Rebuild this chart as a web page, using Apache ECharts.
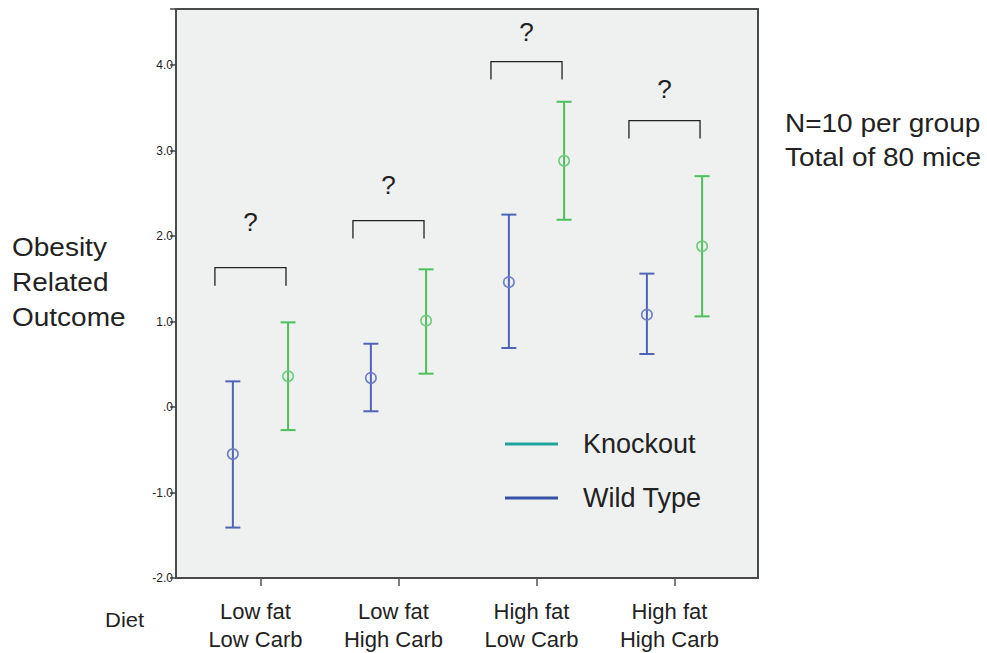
<!DOCTYPE html>
<html>
<head>
<meta charset="utf-8">
<script src="https://cdn.jsdelivr.net/npm/echarts@6/dist/echarts.min.js"></script>
<style>
html,body{margin:0;padding:0;background:#fff;}
#main{width:987px;height:653px;}
</style>
</head>
<body>
<div id="main"></div>
<script>
var categories = ['Low fat\nLow Carb', 'Low fat\nHigh Carb', 'High fat\nLow Carb', 'High fat\nHigh Carb'];
var wtMean = [-0.55, 0.34, 1.46, 1.08];
var wtLow  = [-1.41, -0.05, 0.69, 0.62];
var wtHigh = [0.30, 0.74, 2.25, 1.56];
var koMean = [0.36, 1.01, 2.88, 1.88];
var koLow  = [-0.27, 0.39, 2.19, 1.06];
var koHigh = [0.99, 1.61, 3.57, 2.70];
var bracketLevel = [1.63, 2.18, 4.04, 3.35];
var questionLevel = [2.16, 2.60, 4.39, 3.72];
var yTicks = [-2, -1, 0, 1, 2, 3, 4];

var FONT = '"Liberation Sans", Arial, Helvetica, sans-serif';
var OFFSET = 0.2;

function barData(mean, low, high, off) {
  return mean.map(function (m, i) { return [i + 1 + off, low[i], high[i], m]; });
}

function errorRender(color, circleColor) {
  return function (params, api) {
    var x = api.value(0);
    var lo = api.coord([x, api.value(1)]);
    var hi = api.coord([x, api.value(2)]);
    var mid = api.coord([x, api.value(3)]);
    var cap = 7.5;
    var ls = { stroke: color, lineWidth: 2 };
    return {
      type: 'group',
      children: [
        { type: 'line', shape: { x1: hi[0], y1: hi[1], x2: lo[0], y2: lo[1] }, style: ls },
        { type: 'line', shape: { x1: hi[0] - cap, y1: hi[1], x2: hi[0] + cap, y2: hi[1] }, style: ls },
        { type: 'line', shape: { x1: lo[0] - cap, y1: lo[1], x2: lo[0] + cap, y2: lo[1] }, style: ls },
        { type: 'circle', shape: { cx: mid[0], cy: mid[1], r: 5.2 }, style: { fill: 'none', stroke: circleColor, lineWidth: 1.6 } }
      ]
    };
  };
}

var bracketData = bracketLevel.map(function (b, i) { return [i + 1, b, questionLevel[i]]; });

var chart = echarts.init(document.getElementById('main'), null, { renderer: 'svg' });
chart.setOption({
  backgroundColor: '#ffffff',
  animation: false,
  textStyle: { fontFamily: FONT },
  grid: {
    left: 176, top: 9, right: 229, bottom: 75,
    show: true, backgroundColor: '#eff0f0', borderColor: '#4a4a4a', borderWidth: 2
  },
  xAxis: {
    type: 'value', min: 0.388, max: 4.605,
    splitLine: { show: false },
    axisLine: { show: false, onZero: false },
    axisTick: { show: true, customValues: [1, 2, 3, 4], length: 8, lineStyle: { color: '#555', width: 1.5 } },
    axisLabel: {
      customValues: [1, 2, 3, 4],
      formatter: function (v) { return categories[Math.round(v) - 1] || ''; },
      fontSize: 22, lineHeight: 28, color: '#222', margin: 19, fontFamily: FONT, align: 'center',
      padding: [0, 10, 0, 0]
    }
  },
  yAxis: {
    type: 'value', min: -2, max: 4.655, interval: 1,
    splitLine: { show: false },
    axisLine: { show: false, onZero: false },
    axisTick: { show: true, length: 6, lineStyle: { color: '#444', width: 1.5 } },
    axisLabel: {
      fontSize: 12, color: '#222', margin: 3, fontFamily: FONT,
      formatter: function (v) {
        if (yTicks.indexOf(v) < 0) return '';
        if (v === 0) return '.0';
        return v.toFixed(1);
      }
    }
  },
  legend: {
    orient: 'vertical', left: 505, top: 429, padding: 0,
    itemWidth: 53, itemHeight: 3, itemGap: 24,
    icon: 'rect',
    textStyle: { fontSize: 27, color: '#222', fontFamily: FONT, lineHeight: 30, padding: [0, 0, 0, 20] },
    data: [
      { name: 'Knockout', itemStyle: { color: '#20a39b' } },
      { name: 'Wild Type', itemStyle: { color: '#3552a5' } }
    ]
  },
  series: [
    {
      name: 'Knockout', type: 'custom', color: '#20a39b',
      renderItem: errorRender('#4cc05a', '#6fcc7c'),
      encode: { x: 0, y: [1, 2, 3] },
      data: barData(koMean, koLow, koHigh, OFFSET), z: 3
    },
    {
      name: 'Wild Type', type: 'custom', color: '#3552a5',
      renderItem: errorRender('#4e65b5', '#6d80c6'),
      encode: { x: 0, y: [1, 2, 3] },
      data: barData(wtMean, wtLow, wtHigh, -OFFSET), z: 3
    },
    {
      name: 'brackets', type: 'custom',
      renderItem: function (params, api) {
        var c = api.value(0);
        var top = api.coord([c - 0.33, api.value(1)]);
        var right = api.coord([c + 0.185, api.value(1)]);
        var q = api.coord([c, api.value(2)]);
        var leg = 18;
        return {
          type: 'group',
          children: [
            { type: 'polyline', shape: { points: [[top[0], top[1] + leg], [top[0], top[1]], [right[0], right[1]], [right[0], right[1] + leg]] },
              style: { stroke: '#222', lineWidth: 1.3, fill: 'none' } },
            { type: 'text', x: (top[0] + right[0]) / 2, y: q[1],
              style: { text: '?', fontSize: 26, fill: '#222', fontFamily: FONT, align: 'center', verticalAlign: 'middle' } }
          ]
        };
      },
      encode: { x: 0, y: [1, 2] },
      data: bracketData, z: 2
    }
  ],
  graphic: [
    { type: 'text', left: 12, top: 230, scaleX: 1.12, style: { text: 'Obesity\nRelated\nOutcome', fontSize: 25, lineHeight: 35, fill: '#222', fontFamily: FONT } },
    { type: 'text', left: 785, top: 107, scaleX: 1.12, style: { text: 'N=10 per group\nTotal of 80 mice', fontSize: 25, lineHeight: 34, fill: '#222', fontFamily: FONT } },
    { type: 'text', left: 105, top: 610, scaleX: 1.1, style: { text: 'Diet', fontSize: 20, fill: '#222', fontFamily: FONT } }
  ]
});
</script>
</body>
</html>
